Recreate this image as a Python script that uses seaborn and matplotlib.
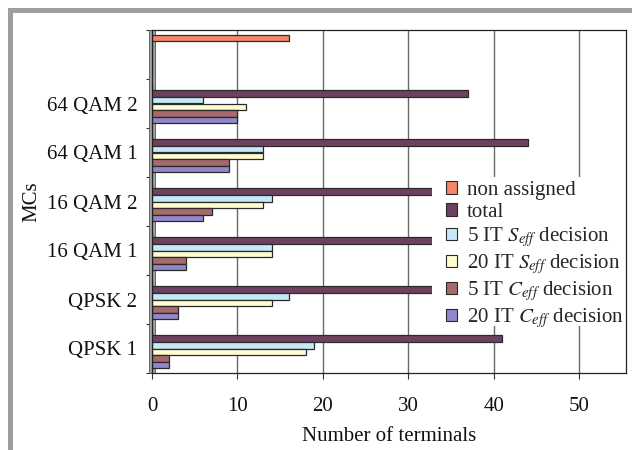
import matplotlib
matplotlib.use("Agg")
import matplotlib.pyplot as plt
from matplotlib.patches import Rectangle
import seaborn as sns
import pandas as pd

# Modulation-and-coding rows, top to bottom (top row holds only the unassigned count)
categories = [" ", "64 QAM 2", "64 QAM 1", "16 QAM 2", "16 QAM 1", "QPSK 2", "QPSK 1"]
series = ["non assigned", "total",
          "5 IT $S_{eff}$ decision", "20 IT $S_{eff}$ decision",
          "5 IT $C_{eff}$ decision", "20 IT $C_{eff}$ decision"]

non_assigned = [16, 0, 0, 0, 0, 0, 0]
total        = [0, 37, 44, 40, 38, 40, 41]
seff_5it     = [0, 6, 13, 14, 14, 16, 19]
seff_20it    = [0, 11, 13, 13, 14, 14, 18]
ceff_5it     = [0, 10, 9, 7, 4, 3, 2]
ceff_20it    = [0, 10, 9, 6, 4, 3, 2]

colors = ["#F2856A", "#6E4160", "#C6E9F8", "#FFFCD2", "#A66A6E", "#9088C8"]

values = [non_assigned, total, seff_5it, seff_20it, ceff_5it, ceff_20it]
df = pd.DataFrame(
    [(c, s, v[i]) for s, v in zip(series, values) for i, c in enumerate(categories)],
    columns=["MCs", "series", "terminals"],
)

sns.set_theme(style="white")
plt.rcParams["font.family"] = ["Liberation Serif", "DejaVu Serif"]
plt.rcParams["mathtext.fontset"] = "stix"

FS = 15
fig = plt.figure(figsize=(6.32, 4.5), dpi=100)
W, H = 632, 450
ax = fig.add_axes([152 / W, 1 - 373 / H, (626 - 152) / W, (373 - 30) / H])

sns.barplot(data=df, x="terminals", y="MCs", hue="series", order=categories,
            hue_order=series, palette=colors, orient="h", width=0.81,
            edgecolor="#2a2a2a", linewidth=0.9, saturation=1, ax=ax, zorder=3)

ax.set_xlim(0, 55.5)
ax.set_ylim(6.5, -0.5)
ax.set_xticks([0, 10, 20, 30, 40, 50])
ax.xaxis.grid(True, color="#6a6a6a", linewidth=1.0, zorder=0)
ax.yaxis.grid(False)
ax.set_axisbelow(True)

# left wall strip
ax.add_patch(Rectangle((-0.35, -0.5), 0.7, 7, facecolor="#a3a3a3",
                       edgecolor="#555555", linewidth=0.6, zorder=2, clip_on=False))

# white backing behind the legend
ax.add_patch(Rectangle((32.8, 2.5), 55.35 - 32.8, 3.05, facecolor="white",
                       edgecolor="none", zorder=4))

for side in ["top", "right", "bottom", "left"]:
    ax.spines[side].set_visible(True)
    ax.spines[side].set_color("#222222")
    ax.spines[side].set_linewidth(0.9)
    ax.spines[side].set_zorder(5)

ax.set_yticks(range(len(categories)))
ax.set_yticklabels(categories)
ax.set_yticks([i - 0.5 for i in range(len(categories) + 1)], minor=True)
ax.tick_params(axis="y", which="major", length=0, pad=10.5, labelsize=FS, labelcolor="#111111")
ax.tick_params(axis="y", which="minor", length=4, width=0.8, color="#333333", left=True)
ax.tick_params(axis="x", which="major", length=4, width=0.8, color="#333333",
               bottom=True, pad=13, labelsize=FS, labelcolor="#111111")

ax.set_xlabel("Number of terminals", fontsize=FS, labelpad=8, color="#111111")
ax.set_ylabel("MCs", fontsize=FS, labelpad=4, color="#111111")

leg = ax.legend(loc="upper left", bbox_to_anchor=(0.62, 0.560), borderaxespad=0,
                frameon=False, fontsize=FS, handlelength=0.55, handleheight=0.55,
                handletextpad=0.45, labelspacing=0.15, borderpad=0)
leg.set_zorder(6)
for h in leg.legend_handles:
    h.set_edgecolor("#2a2a2a")
    h.set_linewidth(0.8)

# grey frame around the figure (top and left)
fig.add_artist(Rectangle((8 / W, 1 - 13 / H), (W - 8) / W, 5 / H,
                         transform=fig.transFigure, facecolor="#9e9e9e", edgecolor="none"))
fig.add_artist(Rectangle((8 / W, 0), 5 / W, 1 - 8 / H,
                         transform=fig.transFigure, facecolor="#9e9e9e", edgecolor="none"))

fig.savefig("out.png", dpi=100)
